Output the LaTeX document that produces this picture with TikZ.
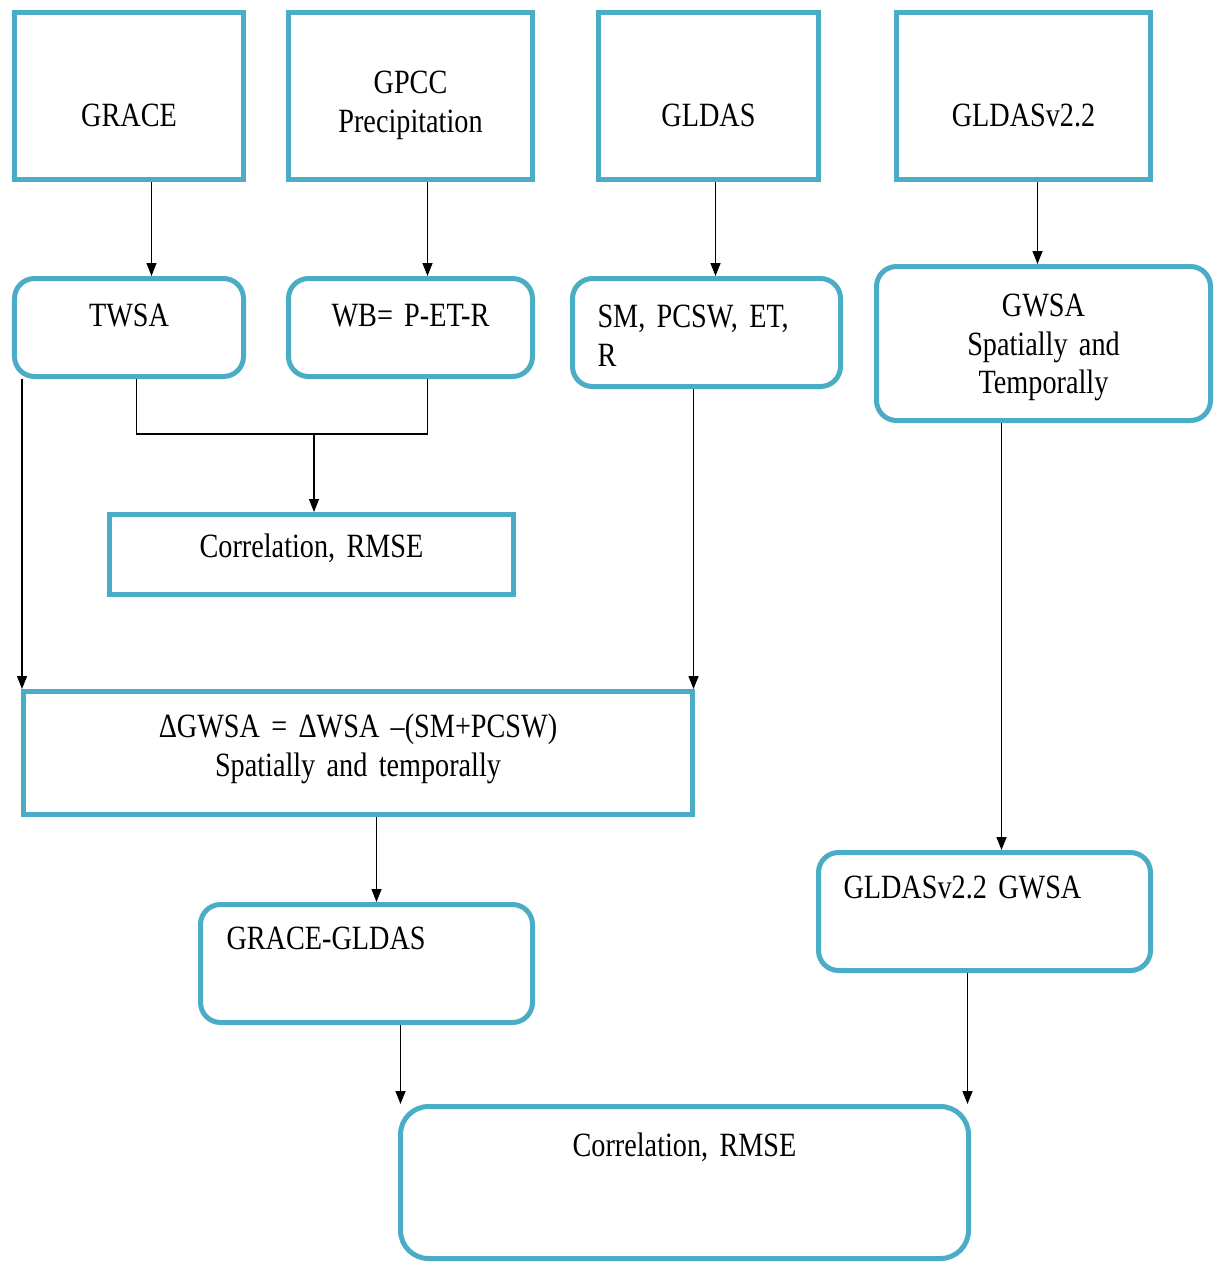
\documentclass[tikz,border=0pt]{standalone}
\usepackage{fontspec}
\setmainfont[FakeStretch=0.83,WordSpace=0.8]{Liberation Serif}
\usetikzlibrary{arrows.meta}
\definecolor{bord}{HTML}{4BACC6}
\tikzset{
  box/.style={draw=bord, line width=5pt, inner sep=0pt, anchor=north west,
    font=\fontsize{34}{38.5}\selectfont},
  rbox/.style={box, rounded corners=20pt},
  arr/.style={-{Triangle[length=13pt,width=10pt]}, line width=1.4pt},
  ln/.style={line width=1.4pt}
}
\begin{document}
\begin{tikzpicture}[x=1pt,y=-1pt]
\useasboundingbox (2,2) rectangle (1216,1264);
% top row
\node[box, minimum width=229pt, minimum height=167pt, text width=229pt, align=center,
  text height=114pt, text depth=53pt] (grace) at (14,12) {GRACE};
\node[box, minimum width=244pt, minimum height=167pt, text width=244pt, align=center,
  text height=81pt, text depth=86pt] (gpcc) at (288,12) {GPCC\\Precipitation};
\node[box, minimum width=220pt, minimum height=167pt, text width=220pt, align=center,
  text height=114pt, text depth=53pt] (gldas) at (598,12) {GLDAS};
\node[box, minimum width=254pt, minimum height=167pt, text width=254pt, align=center,
  text height=114pt, text depth=53pt] (gldasv) at (896,12) {GLDASv2.2};
% second row
\node[rbox, minimum width=229pt, minimum height=98pt, text width=229pt, align=center,
  text height=48pt, text depth=50pt] (twsa) at (14,278) {TWSA};
\node[rbox, minimum width=244pt, minimum height=98pt, text width=244pt, align=center,
  text height=48pt, text depth=50pt] (wb) at (288,278) {WB= P-ET-R};
\node[rbox, minimum width=268pt, minimum height=108pt, inner xsep=25pt, text width=218pt, align=left,
  text height=49pt, text depth=59pt] (sm) at (572,278) {SM, PCSW, ET,\\R};
\node[rbox, minimum width=334pt, minimum height=154pt, text width=334pt, align=center,
  text height=50pt, text depth=104pt] (gwsa) at (876,266) {GWSA\\Spatially and\\Temporally};
% middle
\node[box, minimum width=404pt, minimum height=80pt, text width=404pt, align=center,
  text height=43pt, text depth=37pt] (corr) at (109,514) {Correlation, RMSE};
\node[box, minimum width=669pt, minimum height=123pt, text width=669pt, align=center,
  text height=46pt, text depth=77pt] (dgwsa) at (23,691) {ΔGWSA = ΔWSA –(SM+PCSW)\\Spatially and temporally};
\node[rbox, minimum width=332pt, minimum height=118pt, inner xsep=26pt, text width=280pt, align=left,
  text height=45pt, text depth=73pt] (gg) at (200,904) {GRACE-GLDAS};
\node[rbox, minimum width=332pt, minimum height=118pt, inner xsep=25pt, text width=282pt, align=left,
  text height=46pt, text depth=72pt] (gw2) at (818,852) {GLDASv2.2 GWSA};
\node[rbox, rounded corners=28pt, minimum width=568pt, minimum height=152pt, text width=568pt, align=center,
  text height=50pt, text depth=102pt] (final) at (400,1106) {Correlation, RMSE};
% start points
\coordinate (s1) at ([xshift=22.5pt]grace.south);
\coordinate (s2) at ([xshift=17pt]gpcc.south);
\coordinate (s3) at ([xshift=7pt]gldas.south);
\coordinate (s4) at ([xshift=14pt]gldasv.south);
\coordinate (s5) at ([xshift=7.5pt]twsa.south);
\coordinate (s6) at ([xshift=17pt]wb.south);
\coordinate (s7) at ([xshift=10pt]twsa.south west);
\coordinate (s8) at ([xshift=-13pt]sm.south);
\coordinate (s9) at ([xshift=-42pt]gwsa.south);
\coordinate (s10) at ([xshift=18.5pt]dgwsa.south);
\coordinate (s11) at ([xshift=34pt]gg.south);
\coordinate (s12) at ([xshift=-17pt]gw2.south);
\coordinate (jn) at (316,436);
% connectors
\draw[arr] (s1) -- (s1 |- twsa.north);
\draw[arr] (s2) -- (s2 |- wb.north);
\draw[arr] (s3) -- (s3 |- sm.north);
\draw[arr] (s4) -- (s4 |- gwsa.north);
\draw[ln] (s5) |- (jn) -| (s6);
\draw[arr] (jn) -- (jn |- corr.north);
\draw[arr] (s7) -- (s7 |- dgwsa.north);
\draw[arr] (s8) -- (s8 |- dgwsa.north);
\draw[arr] (s9) -- (s9 |- gw2.north);
\draw[arr] (s10) -- (s10 |- gg.north);
\draw[arr] (s11) -- (s11 |- final.north);
\draw[arr] (s12) -- (s12 |- final.north);
\end{tikzpicture}
\end{document}
